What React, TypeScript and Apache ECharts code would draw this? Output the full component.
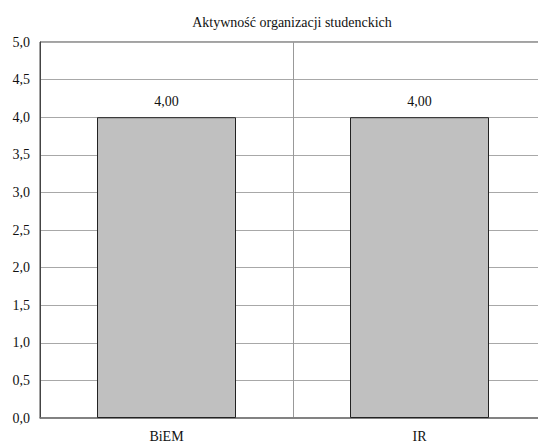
import React, { useEffect, useRef } from "react";
import * as echarts from "echarts";

const titleText = "Aktywność organizacji studenckich";
const categories = ["BiEM", "IR"];
const values = [4.0, 4.0];
const yMin = 0;
const yMax = 5;
const yStep = 0.5;

const FONT = "Liberation Serif";

export default function App() {
  const ref = useRef<HTMLDivElement>(null);
  useEffect(() => {
    if (!ref.current) return;
    const chart = echarts.init(ref.current, undefined, { renderer: "svg" });
    chart.setOption({
      animation: false,
      backgroundColor: "#ffffff",
      title: {
        text: titleText,
        left: 287,
        textAlign: "center",
        top: 10,
        textStyle: { fontFamily: FONT, fontSize: 14, fontWeight: "normal", color: "#111" },
      },
      grid: {
        left: 40,
        right: 0,
        top: 42,
        bottom: 28,
        show: true,
        borderColor: "#444",
        borderWidth: 1,
        backgroundColor: "transparent",
      },
      xAxis: {
        type: "category",
        data: categories,
        axisLine: { show: true, lineStyle: { color: "#777", width: 1.5 } },
        axisTick: { show: false },
        axisLabel: { fontFamily: FONT, fontSize: 14, color: "#111", margin: 11 },
        splitLine: { show: true, lineStyle: { color: "#999", width: 1 } },
      },
      yAxis: {
        type: "value",
        min: yMin,
        max: yMax,
        interval: yStep,
        axisLine: { show: true, lineStyle: { color: "#444", width: 1 } },
        axisTick: { show: false },
        axisLabel: {
          fontFamily: FONT,
          fontSize: 14,
          color: "#111",
          margin: 10,
          formatter: (v: number) => v.toFixed(1).replace(".", ","),
        },
        splitLine: { show: true, lineStyle: { color: "#a8a8a8", width: 1 } },
      },
      series: [
        {
          type: "bar",
          data: values,
          barWidth: 139,
          itemStyle: { color: "#c0c0c0", borderColor: "#222", borderWidth: 1 },
          label: {
            show: true,
            position: "top",
            distance: 9,
            fontFamily: FONT,
            fontSize: 14,
            color: "#111",
            formatter: (p: any) => Number(p.value).toFixed(2).replace(".", ","),
          },
        },
      ],
    });
    return () => chart.dispose();
  }, []);
  return (
    <div style={{ position: "absolute", left: 0, top: 0, width: 538, height: 446, overflow: "hidden" }}>
      <div ref={ref} style={{ width: 546, height: 446 }} />
    </div>
  );
}
